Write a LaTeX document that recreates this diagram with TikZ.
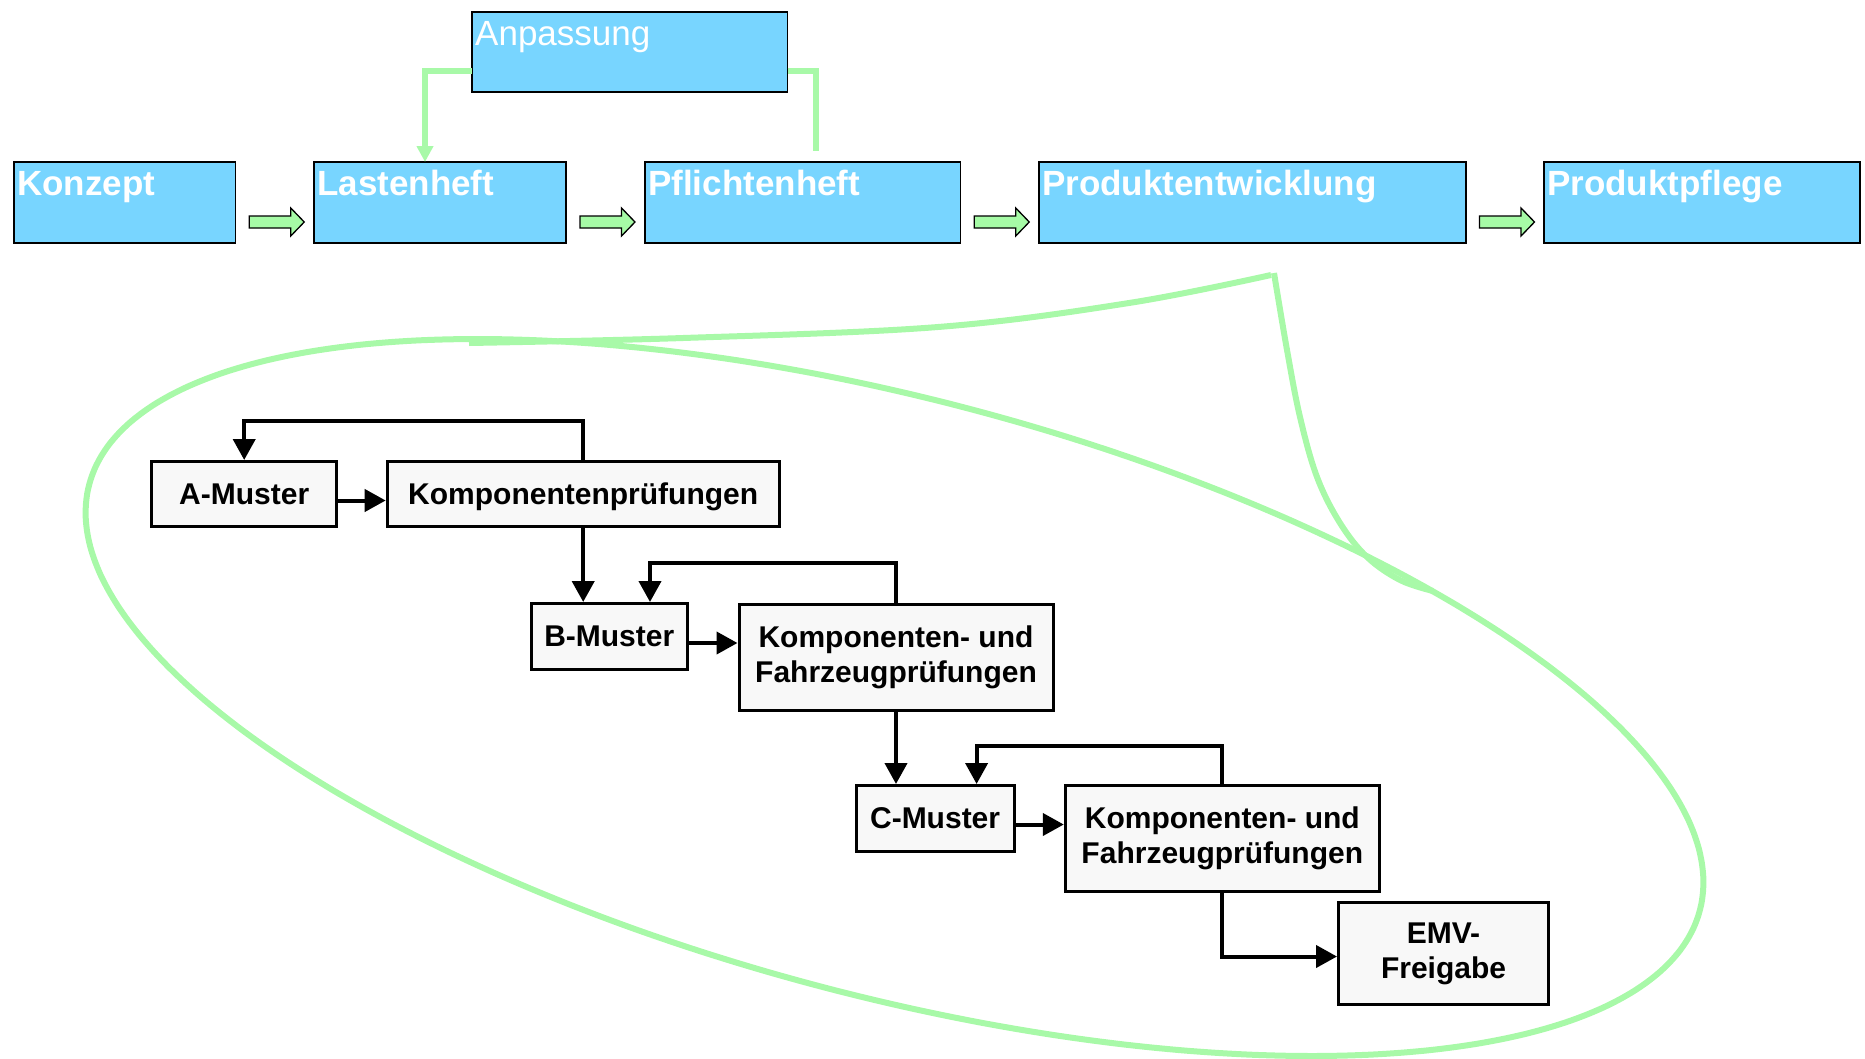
\documentclass[tikz,border=0pt]{standalone}
\usepackage{fontspec}
\setmainfont{Liberation Sans}
\usetikzlibrary{arrows.meta,calc}
\definecolor{boxblue}{HTML}{78D5FF}
\definecolor{lgreen}{HTML}{A8F9A8}
\definecolor{agreen}{HTML}{A6FBA6}
\definecolor{boxgray}{HTML}{F8F8F8}
\newcommand\blockarrow[2]{%
  \coordinate (m-#1) at ($(#1.east)!0.5!(#2.west)+(2,19.5)$);
  \draw[blockarr] ($(m-#1)+(-27.5,-6)$) -- ($(m-#1)+(14,-6)$) -- ($(m-#1)+(14,-14)$)
     -- ($(m-#1)+(27.5,0)$) -- ($(m-#1)+(14,14)$) -- ($(m-#1)+(14,6)$)
     -- ($(m-#1)+(-27.5,6)$) -- cycle;}
\begin{document}
\begin{tikzpicture}[x=1pt,y=-1pt,
  phase/.style={draw=black, line width=1.8pt, fill=boxblue, anchor=north west,
    minimum height=81pt, inner sep=0pt, outer sep=0pt},
  phasetext/.style={anchor=base west, inner sep=0pt, text=white,
    font=\fontsize{35}{42}\selectfont\bfseries},
  stage/.style={draw=black, line width=3pt, fill=boxgray, anchor=north west,
    inner sep=0pt, font=\fontsize{30}{35}\selectfont\bfseries, align=center},
  conn/.style={line width=4pt, -{Triangle[length=21pt,width=22pt]}},
  gline/.style={draw=lgreen, line width=6pt},
  blockarr/.style={draw=black, line width=1.3pt, fill=agreen, line join=miter}
]
\useasboundingbox (0,0) rectangle (1865,1058);

% green magnifier loop and callout
\draw[gline] plot[smooth, tension=0.6] coordinates
  {(469,343) (683,338) (938,327) (1129,303) (1271,275)};
\draw[gline] plot[smooth, tension=0.6] coordinates
  {(1274,273) (1287,350) (1300,417) (1317,477) (1340,523) (1367,557) (1400,580) (1433,591)};
\draw[gline] plot[domain=0:357.5, samples=144, smooth cycle, variable=\t]
  ({894.5 + 807.1*cos(\t) - 54.07*sin(\t)}, {697.5 + 205*cos(\t) + 294.1*sin(\t)});

% top row
\node[phase, minimum width=221.5pt] (konzept) at (14,162) {};
\node[phase, minimum width=252pt] (lasten) at (314,162) {};
\node[phase, minimum width=315.5pt] (pflicht) at (645,162) {};
\node[phase, minimum width=427pt] (produkt) at (1039,162) {};
\node[phase, minimum width=316pt] (pflege) at (1544,162) {};
\node[phase, minimum width=315.5pt, minimum height=80pt] (anp) at (472,12) {};

\coordinate (pfl-end) at ([xshift=13.25pt,yshift=11pt]pflicht.north);
\draw[gline, -{Triangle[length=16pt,width=16pt]}] ([yshift=-19pt]anp.west) -| ([xshift=-15pt]lasten.north);
\draw[gline] ([yshift=-19pt]anp.east) -| (pfl-end);

\node[phasetext] (konzept-t) at ([xshift=3pt,yshift=-33pt]konzept.north west) {Konzept};
\node[phasetext] (lasten-t) at ([xshift=3pt,yshift=-33pt]lasten.north west) {Lastenheft};
\node[phasetext] (pflicht-t) at ([xshift=3pt,yshift=-33pt]pflicht.north west) {Pflichtenheft};
\node[phasetext] (produkt-t) at ([xshift=3pt,yshift=-33pt]produkt.north west) {Produktentwicklung};
\node[phasetext] (pflege-t) at ([xshift=3pt,yshift=-33pt]pflege.north west) {Produktpflege};
\node[phasetext, font=\fontsize{35}{42}\selectfont] (anp-t) at ([xshift=3pt,yshift=-33pt]anp.north west) {Anpassung};

\blockarrow{konzept}{lasten}
\blockarrow{lasten}{pflicht}
\blockarrow{pflicht}{produkt}
\blockarrow{produkt}{pflege}

% sample stages
\node[stage, minimum width=184.6pt, minimum height=65pt, text depth=0pt] (amuster) at (150.4,460) {A-Muster};
\node[stage, minimum width=392pt, minimum height=65pt, text depth=0pt] (kp) at (385.7,460) {Komponentenprüfungen};
\node[stage, minimum width=156.5pt, minimum height=66pt, text depth=0pt] (bmuster) at (529.5,602) {B-Muster};
\node[stage, minimum width=314pt, minimum height=106pt] (kf1) at (737.5,603) {Komponenten- und\\Fahrzeugprüfungen};
\node[stage, minimum width=158pt, minimum height=66pt, text depth=0pt] (cmuster) at (854.6,784) {C-Muster};
\node[stage, minimum width=314pt, minimum height=106pt] (kf2) at (1063.8,784) {Komponenten- und\\Fahrzeugprüfungen};
\node[stage, minimum width=210pt, minimum height=102pt] (emv) at (1337,901) {EMV-\\Freigabe};

\draw[conn] ([yshift=-6.5pt]amuster.east) -- ([yshift=-6.5pt]amuster.east -| kp.west);
\draw[conn] (kp.south) -- (kp.south |- bmuster.north);
\draw[conn] (kp.north) -- ++(0,-39) -| (amuster.north);
\draw[conn] ([yshift=-6.5pt]bmuster.east) -- ([yshift=-6.5pt]bmuster.east -| kf1.west);
\draw[conn] (kf1.north) -- ++(0,-40) -| ([xshift=-39pt]bmuster.north east);
\draw[conn] (kf1.south) -- (kf1.south |- cmuster.north);
\draw[conn] ([yshift=-6pt]cmuster.east) -- ([yshift=-6pt]cmuster.east -| kf2.west);
\draw[conn] (kf2.north) -- ++(0,-38.5) -| ([xshift=-39pt]cmuster.north east);
\draw[conn] (kf2.south) |- ([yshift=-3pt]emv.west);
\end{tikzpicture}
\end{document}
